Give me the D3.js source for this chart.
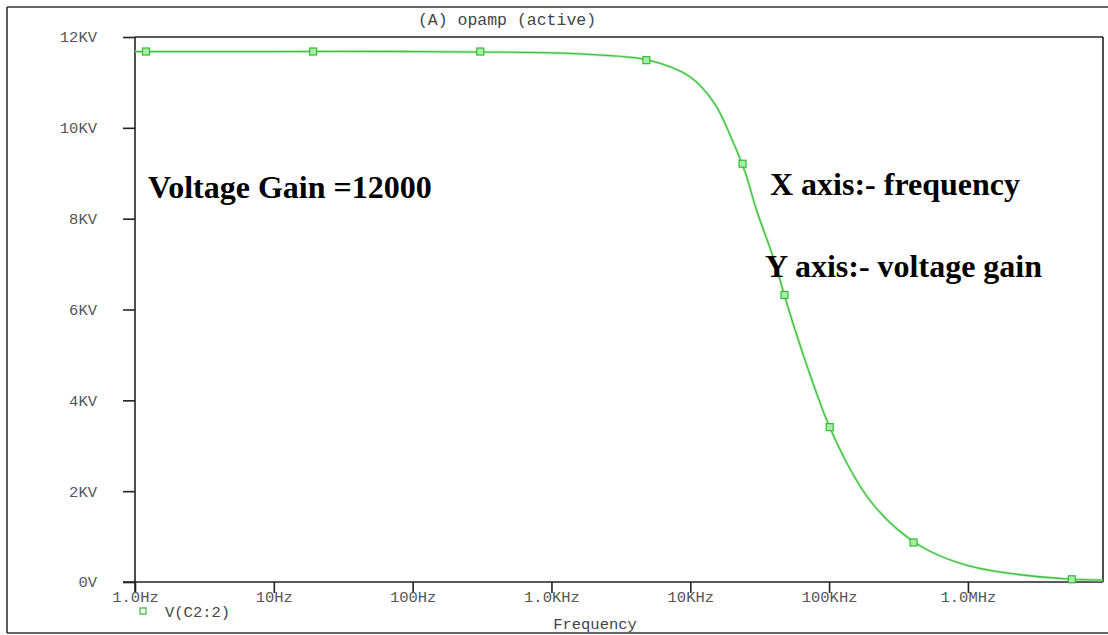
<!DOCTYPE html>
<html>
<head>
<meta charset="utf-8">
<script src="https://cdn.jsdelivr.net/npm/d3@7"></script>
<style>
  html, body { margin: 0; padding: 0; background: #fff; }
  svg { display: block; }
  .tick text { font-family: "Liberation Mono", "DejaVu Sans Mono", monospace; font-size: 15.5px; fill: #555; }
  .axis path.domain { stroke: #222; stroke-width: 1.6; }
  .axis .tick line { stroke: #222; stroke-width: 1.6; }
</style>
</head>
<body>
<svg id="chart" width="1108" height="635"></svg>
<script>
// Frequency response of the op-amp stage, V(C2:2) in volts vs frequency in Hz
const freqHz = [1, 10, 100, 1000, 2000, 5000, 10000, 15000, 20000, 25000, 30000, 40000, 50000,
                70000, 100000, 150000, 200000, 300000, 500000, 1e6, 2e6, 5e6, 9.4e6];
const gainV  = [11680, 11680, 11680, 11650, 11610, 11490, 11120, 10530, 9740, 9000, 8190, 7110, 6100,
                4720, 3440, 2350, 1770, 1200, 720, 360, 190, 70, 40];

// Sample markers drawn along the trace
const markerFreqHz = [1.2, 19.2, 307, 4830, 23800, 47700, 101000, 406000, 5.6e6];
const markerGainV  = [11680, 11680, 11680, 11490, 9210, 6320, 3410, 870, 60];

// Axis ticks
const xTickValues = [1, 10, 100, 1000, 10000, 100000, 1e6];
const xTickLabels = ["1.0Hz", "10Hz", "100Hz", "1.0KHz", "10KHz", "100KHz", "1.0MHz"];
const yTickValues = [0, 2000, 4000, 6000, 8000, 10000, 12000];
const yTickLabels = ["0V", "2KV", "4KV", "6KV", "8KV", "10KV", "12KV"];

const titleText = "(A) opamp (active)";
const xAxisTitle = "Frequency";
const legendLabel = "V(C2:2)";
const notes = [
  { text: "Voltage Gain =12000", x: 148, y: 198 },
  { text: "X axis:- frequency", x: 770, y: 195 },
  { text: "Y axis:- voltage gain", x: 765, y: 277 }
];

const svg = d3.select("#chart");
const plot = { left: 135, right: 1103, top: 37, bottom: 582 };

const x = d3.scaleLog().domain([1, 9.4e6]).range([plot.left, plot.right]);
const y = d3.scaleLinear().domain([0, 12000]).range([plot.bottom, plot.top]);

// Outer window frame
const frame = svg.append("g").attr("stroke", "#333").attr("stroke-width", 1.6).attr("fill", "none");
frame.append("line").attr("x1", 7).attr("y1", 7).attr("x2", 1108).attr("y2", 7);
frame.append("line").attr("x1", 7).attr("y1", 7).attr("x2", 7).attr("y2", 633);
frame.append("line").attr("x1", 7).attr("y1", 633).attr("x2", 1108).attr("y2", 633);

// Plot box top and right edges
svg.append("line").attr("x1", plot.left).attr("y1", plot.top).attr("x2", plot.right).attr("y2", plot.top)
  .attr("stroke", "#222").attr("stroke-width", 1.6);
svg.append("line").attr("x1", plot.right).attr("y1", plot.top).attr("x2", plot.right).attr("y2", plot.bottom)
  .attr("stroke", "#222").attr("stroke-width", 1.6);

// Title
svg.append("text").attr("x", 507).attr("y", 25).attr("text-anchor", "middle")
  .style("font-family", "'Liberation Mono', monospace").style("font-size", "16.5px").style("fill", "#444")
  .text(titleText);

// Y axis
const yAxis = d3.axisLeft(y).tickValues(yTickValues)
  .tickFormat((d, i) => yTickLabels[i]).tickSize(12).tickPadding(26);
const yG = svg.append("g").attr("class", "axis").attr("transform", `translate(${plot.left},0)`).call(yAxis);
yG.select("path.domain").attr("d", `M0,${plot.top}V${plot.bottom + 10}`);

// X axis
const xAxis = d3.axisBottom(x).tickValues(xTickValues)
  .tickFormat((d, i) => xTickLabels[i]).tickSize(11).tickPadding(0);
const xG = svg.append("g").attr("class", "axis").attr("transform", `translate(0,${plot.bottom})`).call(xAxis);
xG.select("path.domain").attr("d", `M${plot.left - 12},0H${plot.right}`);
xG.selectAll(".tick text").attr("dy", "0.6em");

// X axis title
svg.append("text").attr("x", 595).attr("y", 629).attr("text-anchor", "middle")
  .style("font-family", "'Liberation Mono', monospace").style("font-size", "15.5px").style("fill", "#444")
  .text(xAxisTitle);

// Trace
const pts = freqHz.map((f, i) => [f, gainV[i]]);
const line = d3.line().x(d => x(d[0])).y(d => y(d[1])).curve(d3.curveCatmullRom.alpha(0.5));
svg.append("path").datum(pts).attr("d", line)
  .attr("fill", "none").attr("stroke", "#9ee89e").attr("stroke-width", 3).attr("opacity", 0.6);
svg.append("path").datum(pts).attr("d", line)
  .attr("fill", "none").attr("stroke", "#3fbf3f").attr("stroke-width", 1.3);

// Markers
const ms = 7;
svg.append("g").selectAll("rect").data(markerFreqHz).join("rect")
  .attr("x", (d) => x(d) - ms / 2)
  .attr("y", (d, i) => y(markerGainV[i]) - ms / 2)
  .attr("width", ms).attr("height", ms)
  .attr("fill", "#a8eea8").attr("stroke", "#33bb33").attr("stroke-width", 1.2);

// Legend
svg.append("rect").attr("x", 140).attr("y", 608).attr("width", 6).attr("height", 6)
  .attr("fill", "#fff").attr("stroke", "#44bb44").attr("stroke-width", 1.3);
svg.append("text").attr("x", 165).attr("y", 617)
  .style("font-family", "'Liberation Mono', monospace").style("font-size", "15.5px").style("fill", "#444")
  .text(legendLabel);

// Annotations
svg.append("g").selectAll("text").data(notes).join("text")
  .attr("x", d => d.x).attr("y", d => d.y)
  .style("font-family", "'Liberation Serif', 'Times New Roman', serif")
  .style("font-weight", "bold").style("font-size", "32px").style("fill", "#000")
  .text(d => d.text);
</script>
</body>
</html>
